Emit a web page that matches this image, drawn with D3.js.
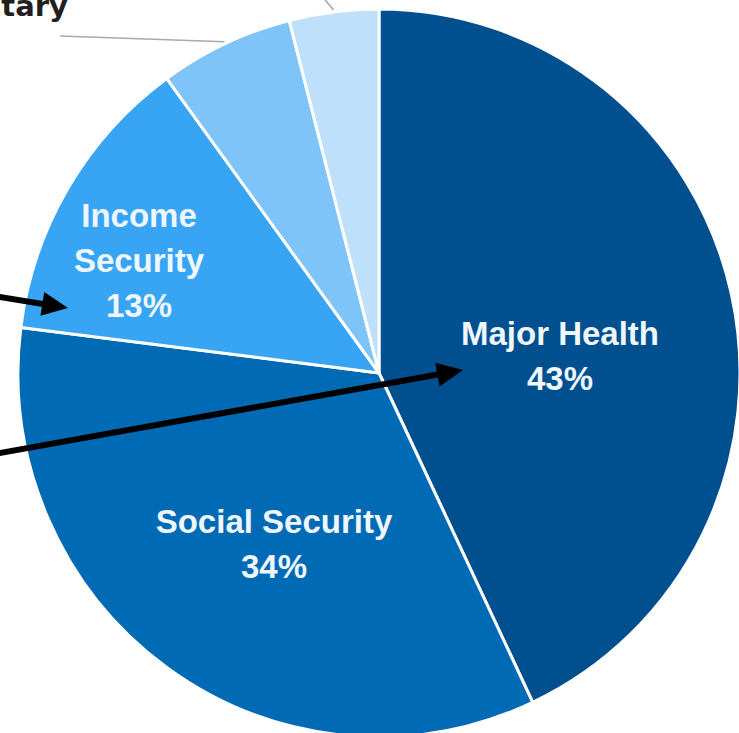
<!DOCTYPE html>
<html>
<head>
<meta charset="utf-8">
<script src="https://cdn.jsdelivr.net/npm/d3@7"></script>
<style>
  html, body { margin: 0; padding: 0; background: #ffffff; overflow: hidden; }
  svg { display: block; }
</style>
</head>
<body>
<svg id="chart" width="739" height="733"></svg>
<script>
// Shares of mandatory spending, clockwise from 12 o'clock
const categories = ["Major Health", "Social Security", "Income Security", "Civilian and Military Retirement", "Veterans and Other Programs"];
const shares = [43, 34, 13, 6, 4];
const sliceColors = ["#004f8e", "#006ab5", "#37a5f4", "#7ec4f8", "#bfe0fb"];
// How each in-slice name breaks over lines (percent line is added from shares)
const nameLines = [["Major Health"], ["Social Security"], ["Income", "Security"]];

const svg = d3.select("#chart");
const cx = 379, cy = 373, R = 361, yStretch = 364 / 361;

const pie = d3.pie().sort(null).value(d => d);
const arcs = pie(shares);
const arc = d3.arc().innerRadius(0).outerRadius(R);

const g = svg.append("g")
  .attr("transform", `translate(${cx},${cy}) scale(1,${yStretch})`);

g.selectAll("path.slice")
  .data(arcs)
  .join("path")
  .attr("class", "slice")
  .attr("d", arc)
  .attr("fill", (d, i) => sliceColors[i])
  .attr("stroke", "#ffffff")
  .attr("stroke-width", 3)
  .attr("stroke-linejoin", "round");

// Leader lines for the two small slices, starting at the rim at mid-angle
const mid = d => (d.startAngle + d.endAngle) / 2;
const rimPoint = (d, extra) => {
  const [x, y] = d3.pointRadial(mid(d), R + extra);
  return [cx + x, cy + y * yStretch];
};
const leaderEnds = [null, null, null, [60, 36], null];
const lineGen = d3.line();
arcs.forEach((d, i) => {
  if (i < 3) return;
  const p0 = rimPoint(d, 2);
  const p1 = leaderEnds[i] || [p0[0] - 22, p0[1] - 26];
  svg.append("path")
    .attr("d", lineGen([p0, p1]))
    .attr("fill", "none")
    .attr("stroke", "#a9a9a9")
    .attr("stroke-width", 1.6);
});

// Outside label for the retirement slice (runs off the left edge)
svg.append("text")
  .attr("x", 68)
  .attr("y", 16)
  .attr("text-anchor", "end")
  .attr("font-family", "DejaVu Sans, sans-serif")
  .attr("font-weight", "bold")
  .attr("font-size", 29)
  .attr("fill", "#231f20")
  .text("Military");

// In-slice labels: name lines followed by the percentage
const labelAnchors = [[560, 345], [274, 533], [139, 227]];
const lineStep = 45;
nameLines.forEach((names, i) => {
  const lines = names.concat([shares[i] + "%"]);
  const t = svg.append("text")
    .attr("text-anchor", "middle")
    .attr("font-family", "Liberation Sans, Arial, sans-serif")
    .attr("font-weight", "bold")
    .attr("font-size", 33)
    .attr("fill", "#eef6fe");
  lines.forEach((s, k) => {
    t.append("tspan")
      .attr("x", labelAnchors[i][0])
      .attr("y", labelAnchors[i][1] + k * lineStep)
      .text(s);
  });
});

// Call-out arrows coming in from the left margin
const arrows = [
  { from: [0, 297], to: [68, 308] },
  { from: [0, 453], to: [463, 370] }
];
const headLen = 26, headHalf = 12;
arrows.forEach(a => {
  const dx = a.to[0] - a.from[0], dy = a.to[1] - a.from[1];
  const len = Math.hypot(dx, dy);
  const ux = dx / len, uy = dy / len;
  const bx = a.to[0] - ux * headLen, by = a.to[1] - uy * headLen;
  svg.append("path")
    .attr("d", lineGen([[a.from[0] - 5, a.from[1] - uy * 5 / ux], [bx + ux * 2, by + uy * 2]]))
    .attr("stroke", "#000000")
    .attr("stroke-width", 6)
    .attr("fill", "none");
  svg.append("path")
    .attr("d", lineGen([
      a.to,
      [bx - uy * headHalf, by + ux * headHalf],
      [bx + uy * headHalf, by - ux * headHalf]
    ]) + "Z")
    .attr("fill", "#000000");
});
</script>
</body>
</html>
